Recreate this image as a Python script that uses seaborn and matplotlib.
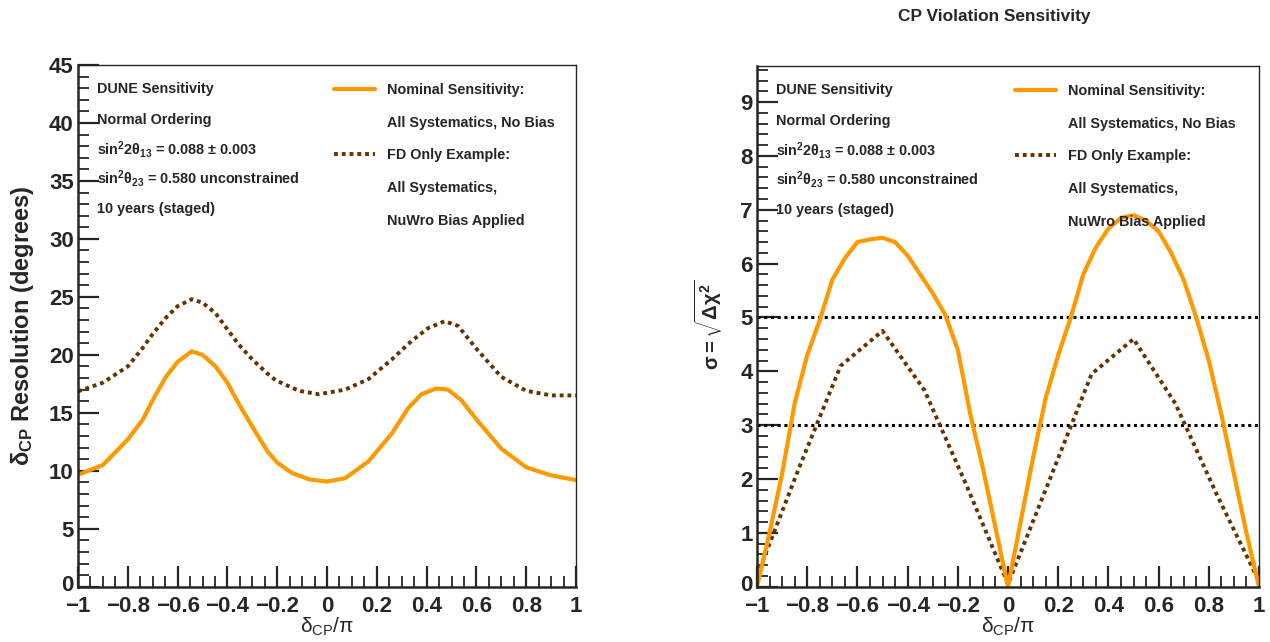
import numpy as np
import pandas as pd
import matplotlib
matplotlib.use("Agg")
import matplotlib.pyplot as plt
import matplotlib.transforms as mtransforms
import seaborn as sns
from matplotlib.ticker import MultipleLocator
from matplotlib.lines import Line2D

# ---------------- data ----------------
res_x = [-1.0, -0.9, -0.8, -0.74, -0.7, -0.647, -0.6, -0.543, -0.5, -0.448, -0.4,
         -0.355, -0.3, -0.24, -0.2, -0.14, -0.07, 0.0, 0.073, 0.166, 0.26, 0.326,
         0.379, 0.439, 0.486, 0.539, 0.605, 0.7, 0.8, 0.9, 1.0]
res_nominal = [9.65, 10.5, 12.7, 14.4, 16.1, 18.1, 19.4, 20.3, 20.0, 19.0, 17.6,
               15.8, 13.8, 11.7, 10.7, 9.8, 9.25, 9.07, 9.36, 10.8, 13.2, 15.4,
               16.6, 17.1, 17.0, 16.1, 14.3, 11.9, 10.3, 9.6, 9.2]
res_x_fd = [-1.0, -0.9, -0.8, -0.74, -0.7, -0.647, -0.6, -0.543, -0.5, -0.448, -0.4,
            -0.355, -0.3, -0.24, -0.206, -0.113, -0.033, 0.073, 0.166, 0.26, 0.34,
            0.406, 0.472, 0.526, 0.605, 0.7, 0.8, 0.9, 1.0]
res_fd = [16.85, 17.6, 19.0, 20.6, 21.8, 23.2, 24.2, 24.8, 24.5, 23.6, 22.2,
          20.9, 19.6, 18.4, 17.8, 16.9, 16.6, 17.0, 17.9, 19.6, 21.2,
          22.3, 22.9, 22.5, 20.4, 18.1, 16.9, 16.5, 16.5]

cpv_x = [-1.0, -0.95, -0.9, -0.85, -0.8, -0.75, -0.7, -0.65, -0.6, -0.55, -0.5, -0.45,
         -0.4, -0.35, -0.3, -0.25, -0.2, -0.15, -0.1, -0.05, 0.0,
         0.05, 0.1, 0.15, 0.2, 0.25, 0.3, 0.35, 0.4, 0.45, 0.5, 0.55, 0.6, 0.65,
         0.7, 0.75, 0.8, 0.85, 0.9, 0.95, 1.0]
cpv_nominal = [0.0, 1.0, 2.1, 3.4, 4.3, 4.95, 5.7, 6.1, 6.4, 6.45, 6.48, 6.4,
               6.15, 5.8, 5.45, 5.05, 4.4, 3.2, 2.2, 1.1, 0.0,
               1.2, 2.4, 3.5, 4.3, 5.0, 5.8, 6.3, 6.65, 6.85, 6.9, 6.8, 6.6, 6.2,
               5.7, 5.0, 4.2, 3.2, 2.1, 1.0, 0.0]
cpv_fd_x = [-1.0, -0.833, -0.667, -0.5, -0.333, -0.167, 0.0,
            0.167, 0.333, 0.5, 0.667, 0.833, 1.0]
cpv_fd = [0.2, 2.2, 4.1, 4.75, 3.65, 1.9, 0.05,
          2.0, 3.95, 4.6, 3.4, 1.7, 0.1]

sigma_levels = [3, 5]

info_lines = ["DUNE Sensitivity", "Normal Ordering",
              r"sin$^{2}$2$\theta_{13}$ = 0.088 $\pm$ 0.003",
              r"sin$^{2}\theta_{23}$ = 0.580 unconstrained",
              "10 years (staged)"]
legend_labels = ["Nominal Sensitivity:", "All Systematics, No Bias",
                 "FD Only Example:", "All Systematics,", "NuWro Bias Applied"]
title = "CP Violation Sensitivity"
x_ticks = [-1, -0.8, -0.6, -0.4, -0.2, 0, 0.2, 0.4, 0.6, 0.8, 1]
x_ticklabels = ["\u22121", "\u22120.8", "\u22120.6", "\u22120.4", "\u22120.2",
                "0", "0.2", "0.4", "0.6", "0.8", "1"]

# ---------------- style ----------------
sns.set_style("ticks")
plt.rcParams["font.family"] = ["Liberation Sans", "DejaVu Sans"]
plt.rcParams["font.weight"] = "bold"
plt.rcParams["mathtext.fontset"] = "custom"
plt.rcParams["mathtext.rm"] = "Liberation Sans:bold"
plt.rcParams["mathtext.it"] = "Liberation Sans:bold"
plt.rcParams["mathtext.bf"] = "Liberation Sans:bold"

ORANGE = "#FF9900"
BROWN = "#663300"
FS_TXT = 10.4

fig = plt.figure(figsize=(12.7, 6.42), dpi=100)
fig.patch.set_facecolor("white")
axL = fig.add_axes([78/1270, 1-586.7/642, 498/1270, 521.7/642])
axR = fig.add_axes([757/1270, 1-586.7/642, 502/1270, 520.7/642])

df_res = pd.DataFrame({"x": res_x, "nom": res_nominal})
df_res_fd = pd.DataFrame({"x": res_x_fd, "fd": res_fd})
df_cpv = pd.DataFrame({"x": cpv_x, "nom": cpv_nominal})
df_cpv_fd = pd.DataFrame({"x": cpv_fd_x, "fd": cpv_fd})

# left panel
sns.lineplot(data=df_res_fd, x="x", y="fd", ax=axL, color=BROWN, lw=2.8,
             linestyle=(0, (1, 1)))
sns.lineplot(data=df_res, x="x", y="nom", ax=axL, color=ORANGE, lw=3.0)

# right panel
for s in sigma_levels:
    axR.axhline(s, color="black", lw=2.2, linestyle=(0, (1, 1.2)), zorder=1)
sns.lineplot(data=df_cpv_fd, x="x", y="fd", ax=axR, color=BROWN, lw=2.8,
             linestyle=(0, (1, 1)))
sns.lineplot(data=df_cpv, x="x", y="nom", ax=axR, color=ORANGE, lw=3.0)

for ax, ymax, ymaj, ymin in [(axL, 45, 5, 1), (axR, 9.67, 1, 0.2)]:
    ax.set_xlim(-1, 1)
    ax.set_ylim(0, ymax)
    ax.xaxis.set_minor_locator(MultipleLocator(0.05))
    ax.yaxis.set_major_locator(MultipleLocator(ymaj))
    ax.yaxis.set_minor_locator(MultipleLocator(ymin))
    ax.tick_params(axis="x", which="major", direction="in", length=15, width=1.6,
                   labelsize=16, pad=7, top=False)
    ax.tick_params(axis="y", which="major", direction="in", length=15, width=1.6,
                   labelsize=16, pad=3, right=False)
    ax.tick_params(which="minor", direction="in", length=8, width=1.3,
                   top=False, right=False)
    for sp in ax.spines.values():
        sp.set_linewidth(1.0)
        sp.set_visible(True)
    ax.spines["left"].set_linewidth(1.8)
    ax.spines["bottom"].set_linewidth(1.8)
    ax.set_xticks(x_ticks)
    ax.set_xticklabels(x_ticklabels, fontweight="bold")
    ax.set_xlabel(r"$\mathregular{\delta_{CP}/\pi}$", fontsize=15)
    ax.xaxis.set_label_coords(0.5, -0.056)

axL.set_yticks(range(0, 46, 5))
axL.set_yticklabels([str(v) for v in range(0, 46, 5)], fontweight="bold")
axR.set_yticks(range(0, 10))
axR.set_yticklabels([str(v) for v in range(0, 10)], fontweight="bold")

# nudge the "0" y labels up slightly so they don't collide with "-1"
shift = mtransforms.ScaledTranslation(0, 3/72, fig.dpi_scale_trans)
for ax in (axL, axR):
    lab0 = ax.get_yticklabels()[0]
    lab0.set_transform(lab0.get_transform() + shift)

axL.set_ylabel(r"$\delta_{CP}$ Resolution (degrees)", fontsize=17, fontweight="bold")
axL.yaxis.set_label_coords(-0.084, 0.5)
axR.set_ylabel(r"$\sigma = \sqrt{\Delta\chi^{2}}$", fontsize=14.5, fontweight="bold")
axR.yaxis.set_label_coords(-0.064, 0.503)

fig.text(994/1270, 1-17/642, title, ha="center", va="center", fontsize=12.4,
         fontweight="bold")

# info text blocks
rows = [24, 55, 84, 113, 144]
for ax, h in [(axL, 521.7), (axR, 520.7)]:
    for t, d in zip(info_lines, rows):
        ax.text(19/500, 1-d/h, t, transform=ax.transAxes, fontsize=FS_TXT,
                fontweight="bold", va="center", ha="left")

handles = [Line2D([], [], color=ORANGE, lw=3.0),
           Line2D([], [], color="none"),
           Line2D([], [], color=BROWN, lw=2.8, linestyle=(0, (1, 1))),
           Line2D([], [], color="none"),
           Line2D([], [], color="none")]
for ax, h in [(axL, 521.7), (axR, 520.7)]:
    ax.legend(handles, legend_labels, loc="upper left",
              bbox_to_anchor=(257/500, 1-18/h),
              frameon=False, handlelength=2.85, handletextpad=0.8,
              labelspacing=1.29, borderpad=0, borderaxespad=0,
              prop={"weight": "bold", "size": FS_TXT})

fig.savefig("out.png", dpi=100, facecolor="white")
